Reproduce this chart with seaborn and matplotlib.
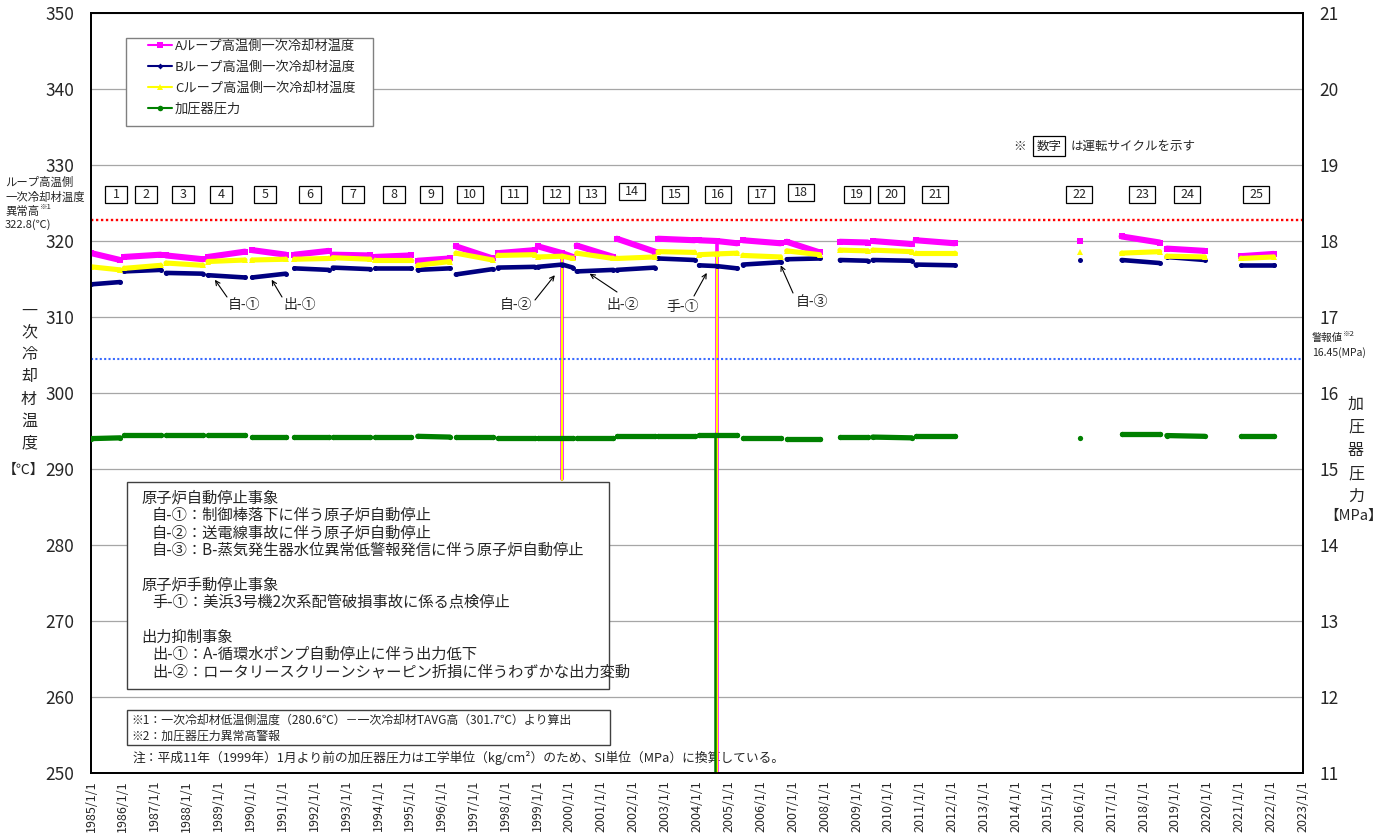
import numpy as np
import pandas as pd
import matplotlib
matplotlib.use("Agg")
import matplotlib.pyplot as plt
import matplotlib.dates as mdates
import seaborn as sns
from matplotlib.lines import Line2D
from matplotlib.patches import Rectangle

# ---------------- data ----------------
cycles = list(range(1, 26))
cycle_start = ["1985-01-05", "1986-01-15", "1987-05-10", "1988-09-01", "1990-01-20",
               "1991-05-20", "1992-08-01", "1993-11-25", "1995-04-01", "1996-06-10",
               "1997-10-05", "1999-01-05", "2000-03-25", "2001-06-28", "2002-10-12",
               "2004-01-25", "2005-06-10", "2006-10-25", "2008-06-25", "2009-07-05",
               "2010-11-10", "2016-01-10", "2017-04-25", "2018-09-25", "2021-01-20"]
cycle_end = ["1985-12-01", "1987-03-10", "1988-07-05", "1989-10-30", "1991-02-10",
             "1992-06-15", "1993-10-01", "1995-01-10", "1996-04-01", "1997-08-05",
             "1998-12-01", "2000-02-10", "2001-05-20", "2002-09-05", "2003-12-05",
             "2005-04-05", "2006-08-15", "2007-11-05", "2009-05-10", "2010-09-25",
             "2012-01-30", "2016-01-10", "2018-07-05", "2019-12-01", "2022-01-30"]

# A loop hot-leg temperature (degC)
A_start = [318.4, 317.9, 318.1, 317.9, 318.8, 318.2, 318.2, 317.9, 317.4, 319.3, 318.4, 319.3, 319.4,
           320.3, 320.3, 320.1, 320.1, 319.9, 319.9, 320.0, 320.1, 320.0, 320.6, 319.0, 318.0]
A_end = [317.5, 318.2, 317.6, 318.6, 318.2, 318.7, 318.1, 318.1, 317.7, 317.7, 318.8, 317.9, 317.9,
         318.6, 320.1, 319.7, 319.7, 318.5, 319.8, 319.6, 319.7, 320.0, 319.8, 318.7, 318.3]
# B loop
B_start = [314.3, 316.0, 315.8, 315.5, 315.2, 316.4, 316.5, 316.4, 316.2, 315.6, 316.5, 316.6, 316.0,
           316.2, 317.7, 316.8, 316.9, 317.6, 317.5, 317.5, 316.9, 317.5, 317.5, 317.9, 316.8]
B_end = [314.6, 316.2, 315.7, 315.2, 315.7, 316.2, 316.3, 316.4, 316.4, 316.3, 316.6, 316.5, 316.2,
         316.5, 317.5, 316.4, 317.2, 317.7, 317.4, 317.4, 316.8, 317.5, 317.1, 317.5, 316.8]
# C loop
C_start = [316.6, 316.4, 317.1, 317.3, 317.5, 317.6, 317.8, 317.5, 316.8, 318.4, 318.1, 317.9, 318.4,
           317.7, 318.6, 318.2, 318.1, 318.7, 318.8, 318.8, 318.4, 318.5, 318.4, 318.0, 317.7]
C_end = [316.2, 316.8, 316.8, 317.5, 317.6, 317.7, 317.6, 317.5, 317.3, 317.5, 318.2, 317.7, 317.7,
         317.9, 318.5, 318.4, 317.9, 318.2, 318.7, 318.6, 318.4, 318.5, 318.6, 317.9, 317.9]
# Pressurizer pressure (MPa)
P_start = [15.40, 15.45, 15.45, 15.45, 15.42, 15.42, 15.42, 15.42, 15.43, 15.42, 15.41, 15.41, 15.41,
           15.43, 15.43, 15.45, 15.41, 15.40, 15.42, 15.42, 15.43, 15.41, 15.46, 15.44, 15.44]
P_end = [15.41, 15.45, 15.45, 15.45, 15.42, 15.42, 15.42, 15.42, 15.42, 15.42, 15.41, 15.41, 15.41,
         15.43, 15.43, 15.45, 15.41, 15.40, 15.42, 15.41, 15.43, 15.41, 15.46, 15.43, 15.44]

# shutdown events (sharp drops)
temp_trip_date = ["1999-10-12", "2004-08-12"]
temp_trip_cycle = [12, 16]
A_trip_level = [318.4, 320.0]
B_trip_level = [316.9, 316.7]
C_trip_level = [318.0, 318.3]
A_trip_low = [288.7, 240.0]
B_trip_low = [288.5, 240.0]
C_trip_low = [288.6, 240.0]
press_trip_date = ["2004-07-25"]
press_trip_cycle = [16]
P_trip_level = [15.45]
P_trip_low = [9.0]

# alarm levels
temp_alarm = 322.8
press_alarm = 16.45

legend_labels = ["Aループ高温側一次冷却材温度", "Bループ高温側一次冷却材温度",
                 "Cループ高温側一次冷却材温度", "加圧器圧力"]
year_ticks = list(range(1985, 2024))
left_ticks = list(range(250, 351, 10))
right_ticks = list(range(11, 22))

# ---------------- build tables ----------------
trows, prows = [], []
for i, c in enumerate(cycles):
    trows.append((cycle_start[i], c, A_start[i], B_start[i], C_start[i]))
    prows.append((cycle_start[i], c, P_start[i]))
    if cycle_end[i] != cycle_start[i]:
        trows.append((cycle_end[i], c, A_end[i], B_end[i], C_end[i]))
        prows.append((cycle_end[i], c, P_end[i]))
spike_t, spike_p = [], []
for j, d in enumerate(temp_trip_date):
    c = temp_trip_cycle[j]
    trows.append((d, c, A_trip_level[j], B_trip_level[j], C_trip_level[j]))
    spike_t.append((d, j, A_trip_level[j], B_trip_level[j], C_trip_level[j]))
    spike_t.append((d, j, A_trip_low[j], B_trip_low[j], C_trip_low[j]))
for j, d in enumerate(press_trip_date):
    c = press_trip_cycle[j]
    prows.append((d, c, P_trip_level[j]))
    spike_p.append((d, j, P_trip_level[j]))
    spike_p.append((d, j, P_trip_low[j]))

tdf = pd.DataFrame(trows, columns=["date", "cycle", "A", "B", "C"])
tdf["date"] = pd.to_datetime(tdf["date"])
tdf = tdf.sort_values(["cycle", "date"]).reset_index(drop=True)
pdf = pd.DataFrame(prows, columns=["date", "cycle", "P"])
pdf["date"] = pd.to_datetime(pdf["date"])
pdf = pdf.sort_values(["cycle", "date"]).reset_index(drop=True)
stdf = pd.DataFrame(spike_t, columns=["date", "trip", "A", "B", "C"])
stdf["date"] = pd.to_datetime(stdf["date"])
spdf = pd.DataFrame(spike_p, columns=["date", "trip", "P"])
spdf["date"] = pd.to_datetime(spdf["date"])

# ---------------- style ----------------
sns.set_style("white")
plt.rcParams["font.family"] = ["Noto Sans CJK JP", "DejaVu Sans"]
plt.rcParams["lines.solid_joinstyle"] = "round"
plt.rcParams["lines.solid_capstyle"] = "round"

W, H = 1386, 839
def fx(px):
    return px / W
def fy(py):
    return 1 - py / H

fig = plt.figure(figsize=(W / 100, H / 100), dpi=100)
ax = fig.add_axes([fx(91), fy(773), fx(1303) - fx(91), fy(13) - fy(773)])
ax2 = ax.twinx()

colA, colB, colC, colP = "#FF00FF", "#000080", "#FFFF00", "#008000"

# thin drop spikes (drawn first, below the running lines)
sns.lineplot(data=stdf, x="date", y="A", units="trip", estimator=None, ax=ax,
             color=colA, lw=2.6, legend=False, zorder=2.5)
sns.lineplot(data=stdf, x="date", y="B", units="trip", estimator=None, ax=ax,
             color=colB, lw=1.2, legend=False, zorder=2.5)
sns.lineplot(data=stdf, x="date", y="C", units="trip", estimator=None, ax=ax,
             color=colC, lw=1.5, legend=False, zorder=2.6)
sns.lineplot(data=spdf, x="date", y="P", units="trip", estimator=None, ax=ax2,
             color=colP, lw=1.8, legend=False, zorder=2.5)

sns.lineplot(data=tdf, x="date", y="A", units="cycle", estimator=None, sort=True, ax=ax,
             color=colA, lw=4.4, marker="s", ms=4.2, mew=0, legend=False, zorder=3)
sns.lineplot(data=tdf, x="date", y="B", units="cycle", estimator=None, sort=True, ax=ax,
             color=colB, lw=3.3, marker="o", ms=3.6, mew=0, legend=False, zorder=3)
sns.lineplot(data=tdf, x="date", y="C", units="cycle", estimator=None, sort=True, ax=ax,
             color=colC, lw=3.7, marker="^", ms=4.2, mew=0, legend=False, zorder=3)
sns.lineplot(data=pdf, x="date", y="P", units="cycle", estimator=None, sort=True, ax=ax2,
             color=colP, lw=3.8, marker="o", ms=3.8, mew=0, legend=False, zorder=3)

ax.axhline(temp_alarm, color="#FF0000", lw=1.7, ls=(0, (1, 1.1)), zorder=2)
ax2.axhline(press_alarm, color="#3A6BFF", lw=1.5, ls=(0, (1, 1.1)), zorder=2)

# axes / ticks
ax.set_xlim(pd.Timestamp("1985-01-01"), pd.Timestamp("2023-01-01"))
ax.set_ylim(250, 350)
ax2.set_ylim(11, 21)
xt = [pd.Timestamp(f"{y}-01-01") for y in year_ticks]
ax.set_xticks(xt)
ax.set_xticklabels([f"{y}/1/1" for y in year_ticks], rotation=90, fontsize=9)
ax.set_yticks(left_ticks)
ax.set_yticklabels([str(v) for v in left_ticks], fontsize=12.5)
ax2.set_yticks(right_ticks)
ax2.set_yticklabels([str(v) for v in right_ticks], fontsize=12.5)
ax.tick_params(axis="x", direction="in", length=4, width=0.8, color="#808080", pad=5)
ax.tick_params(axis="y", length=0, pad=12)
ax2.tick_params(axis="y", length=0, pad=12)
ax.grid(axis="y", color="#A6A6A6", lw=0.9)
ax.grid(axis="x", visible=False)
ax2.grid(False)
for a in (ax, ax2):
    a.set_xlabel("")
    a.set_ylabel("")
    for s in a.spines.values():
        s.set_color("black")
        s.set_linewidth(1.3)

# ---------------- annotations ----------------
def ftext(x, y, s, size, ha="left", va="center", **kw):
    return fig.text(fx(x), fy(y), s, fontsize=size, ha=ha, va=va, **kw)

# cycle number boxes
cycle_label_px = [116, 146, 183, 221, 265, 310, 353, 394, 431, 470, 514, 556, 592, 632, 675,
                  718, 761, 801, 857, 891, 935, 1079, 1142, 1187, 1256]
cycle_label_py = [194] * 25
cycle_label_py[13] = 191
cycle_label_py[17] = 192
for n, px, py in zip(cycles, cycle_label_px, cycle_label_py):
    w = 22 if n < 10 else 26
    h = 17
    fig.patches.append(Rectangle((fx(px - w / 2), fy(py + h / 2)), w / W, h / H,
                                 transform=fig.transFigure, facecolor="white",
                                 edgecolor="black", lw=0.9, zorder=2))
    ftext(px, py + 0.5, str(n), 9, ha="center", zorder=3)

# legend with white frame
fig.patches.append(Rectangle((fx(126), fy(126)), (373 - 126) / W, (126 - 38) / H,
                             transform=fig.transFigure, facecolor="white",
                             edgecolor="#808080", lw=1.0, zorder=2))
handles = [Line2D([], [], color=colA, lw=1.5, marker="s", ms=4, mew=0),
           Line2D([], [], color=colB, lw=1.5, marker="D", ms=3, mew=0),
           Line2D([], [], color=colC, lw=1.5, marker="^", ms=4, mew=0),
           Line2D([], [], color=colP, lw=1.5, marker="o", ms=4, mew=0)]
leg = fig.legend(handles, legend_labels, loc="upper left", bbox_to_anchor=(fx(148), fy(40)),
                 frameon=False, fontsize=9.5, handlelength=1.8, handletextpad=0.25,
                 labelspacing=0.6, borderpad=0, borderaxespad=0)
leg.set_zorder(5)

# cycle note
ftext(1020, 146, "※", 9, ha="center")
ftext(1049, 146, "数字", 9, ha="center",
      bbox=dict(boxstyle="square,pad=0.3", facecolor="white", edgecolor="black", lw=0.9))
ftext(1071, 146, "は運転サイクルを示す", 9)

# left alarm annotation
ftext(5, 182, "ループ高温側", 8.2)
ftext(5, 197, "一次冷却材温度", 8.2)
ftext(5, 211, "異常高", 8.2)
ftext(40, 207, "※1", 5.5)
ftext(5, 225, "322.8(℃)", 8)

# right alarm annotation
ftext(1312, 338, "警報値", 7.5)
ftext(1343, 334, "※2", 5.5)
ftext(1312, 353, "16.45(MPa)", 7.5)

# axis titles (vertical characters)
for i, ch in enumerate("一次冷却材温度"):
    ftext(29, 311 + 22 * i, ch, 11.5, ha="center")
ftext(24, 470, "【℃】", 10, ha="center")
for i, ch in enumerate("加圧器圧力"):
    ftext(1356, 404 + 23.2 * i, ch, 11.5, ha="center")
ftext(1354, 516, "【MPa】", 10.5, ha="center")

# event labels and arrows
events = [("自-①", 244, 305, 227, 297, "1988-11-20", 314.9),
          ("出-①", 300, 305, 282, 297, "1990-09-01", 314.9),
          ("自-②", 516, 305, 535, 300, "1999-07-18", 315.5),
          ("出-②", 623, 305, 617, 292, "2000-08-20", 315.7),
          ("手-①", 683, 307, 694, 296, "2004-04-22", 315.8),
          ("自-③", 812, 302, 793, 293, "2006-08-17", 316.8)]
for lab, tx, ty, ax0, ay0, hd, ht in events:
    ftext(tx, ty, lab, 10, ha="center")
    ax.annotate("", xy=(mdates.date2num(pd.Timestamp(hd)), ht), xycoords="data",
                xytext=(ax0, H - ay0), textcoords="figure pixels",
                arrowprops=dict(arrowstyle="->", lw=0.8, color="black",
                                shrinkA=0, shrinkB=0, mutation_scale=8), zorder=4)

# event description box
fig.patches.append(Rectangle((fx(127), fy(689)), (609 - 127) / W, (689 - 482) / H,
                             transform=fig.transFigure, facecolor="white",
                             edgecolor="#404040", lw=1.0, zorder=2))
event_lines = [(141, "原子炉自動停止事象"),
               (152, "自-①：制御棒落下に伴う原子炉自動停止"),
               (152, "自-②：送電線事故に伴う原子炉自動停止"),
               (152, "自-③：B-蒸気発生器水位異常低警報発信に伴う原子炉自動停止"),
               (None, ""),
               (141, "原子炉手動停止事象"),
               (152, "手-①：美浜3号機2次系配管破損事故に係る点検停止"),
               (None, ""),
               (141, "出力抑制事象"),
               (152, "出-①：A-循環水ポンプ自動停止に伴う出力低下"),
               (152, "出-②：ロータリースクリーンシャーピン折損に伴うわずかな出力変動")]
for i, (x0, s) in enumerate(event_lines):
    if x0 is not None:
        ftext(x0, 498 + 17.4 * i, s, 11, zorder=3)

# footnote box
fig.patches.append(Rectangle((fx(127), fy(745)), (610 - 127) / W, (745 - 710) / H,
                             transform=fig.transFigure, facecolor="white",
                             edgecolor="#404040", lw=1.0, zorder=2))
ftext(131, 720, "※1：一次冷却材低温側温度（280.6℃）－一次冷却材TAVG高（301.7℃）より算出", 8.6, zorder=3)
ftext(131, 736, "※2：加圧器圧力異常高警報", 8.6, zorder=3)

# bottom note (under the data lines)
ax.text(fx(133), fy(758),
        "注：平成11年（1999年）1月より前の加圧器圧力は工学単位（kg/cm²）のため、SI単位（MPa）に換算している。",
        transform=fig.transFigure, fontsize=9.2, ha="left", va="center", zorder=1.5)

fig.savefig("out.png", dpi=100)
